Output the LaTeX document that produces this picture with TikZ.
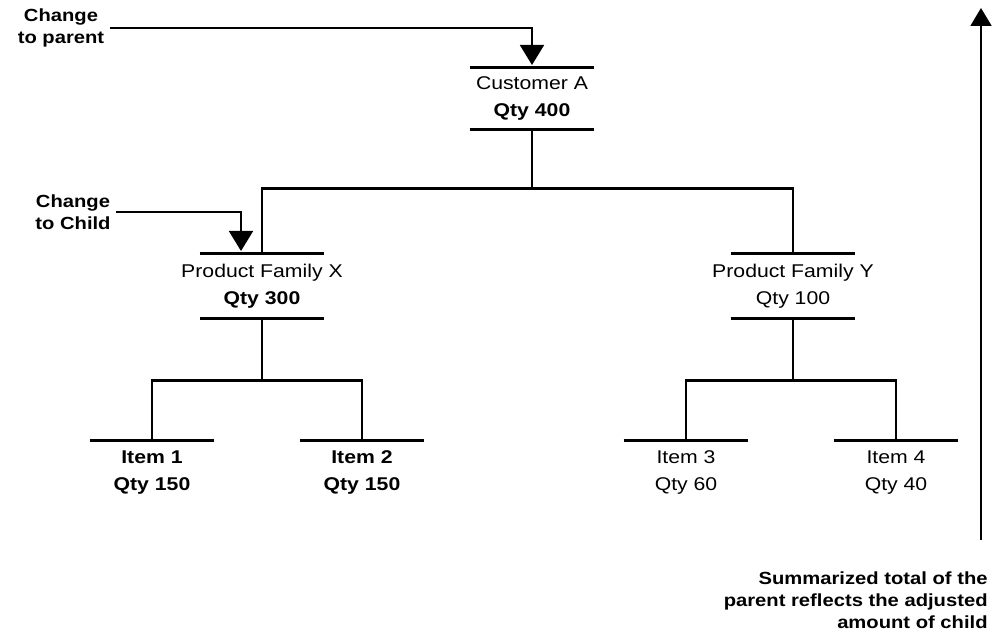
\documentclass[tikz,border=0pt]{standalone}
\usepackage{fontspec}
\setmainfont{Liberation Sans}[FakeStretch=1.15]
\usetikzlibrary{positioning,arrows.meta}

\begin{document}
\begin{tikzpicture}[
  x=0.02cm, y=-0.02cm,
  font=\fontsize{10.5}{15.5}\selectfont,
  unit/.style={minimum width=2.5cm, minimum height=1.24cm, align=center, inner sep=0pt},
  leaf/.style={unit, minimum height=1.26cm},
  bar/.style={line width=1.6pt},
  link/.style={line width=1.5pt},
  feed/.style={line width=1.3pt, -{Triangle[width=13.6pt, length=11.4pt]}, shorten >=1.5pt},
  rise/.style={line width=1.1pt, -{Triangle[width=11.9pt, length=10.2pt]}},
  note/.style={font=\fontsize{10}{12.5}\selectfont\bfseries, align=center, inner sep=3pt}
]
\useasboundingbox (0,0) rectangle (995,632);

% parent, families and items
\node[unit, minimum height=1.22cm] (custA) at (532,98.5) {Customer A\\\textbf{Qty 400}};
\node[unit, minimum height=1.28cm] (famX) at (262,286) {Product Family X\\\textbf{Qty 300}};
\node[unit, minimum height=1.28cm] (famY) at (793,286) {Product Family Y\\Qty 100};
\node[leaf] (item1) at (152,472.5) {\textbf{Item 1}\\\textbf{Qty 150}};
\node[leaf] (item2) at (362,472.5) {\textbf{Item 2}\\\textbf{Qty 150}};
\node[leaf] (item3) at (686,472.5) {Item 3\\Qty 60};
\node[leaf] (item4) at (896,472.5) {Item 4\\Qty 40};

% bars above and below
\foreach \n in {custA,famX,famY}
  \draw[bar] ([xshift=-1.25cm]\n.north) -- ([xshift=1.25cm]\n.north)
             ([xshift=-1.25cm]\n.south) -- ([xshift=1.25cm]\n.south);
\foreach \n in {item1,item2,item3,item4}
  \draw[bar] ([xshift=-1.25cm]\n.north) -- ([xshift=1.25cm]\n.north);

% tree links
\draw[link] (custA.south) -- ++(0,59) -| (famX.north);
\draw[link] (custA.south) -- ++(0,59) -| (famY.north);
\draw[link] (famX.south) -- ++(0,62) -| (item1.north);
\draw[link] (famX.south) -- ++(0,62) -| (item2.north);
\draw[link] (famY.south) -- ++(0,62) -| (item3.north);
\draw[link] (famY.south) -- ++(0,62) -| (item4.north);

% changes
\node[note] (chgP) at (61,28) {Change\\to parent};
\node[note] (chgC) at (73,212) {Change\\to Child};
\draw[feed] (chgP.east) -| (custA.north);
\draw[feed] (chgC.east) -| ([xshift=-0.42cm]famX.north);

% summary
\node[note, align=right, anchor=east, inner sep=0pt] (sumNote) at (988,600)
  {Summarized total of the\\parent reflects the adjusted\\amount of child};
\coordinate (sumFoot) at (981,540);
\coordinate (sumHead) at (981,8);
\draw[rise] (sumFoot) -- (sumHead);
\end{tikzpicture}
\end{document}
